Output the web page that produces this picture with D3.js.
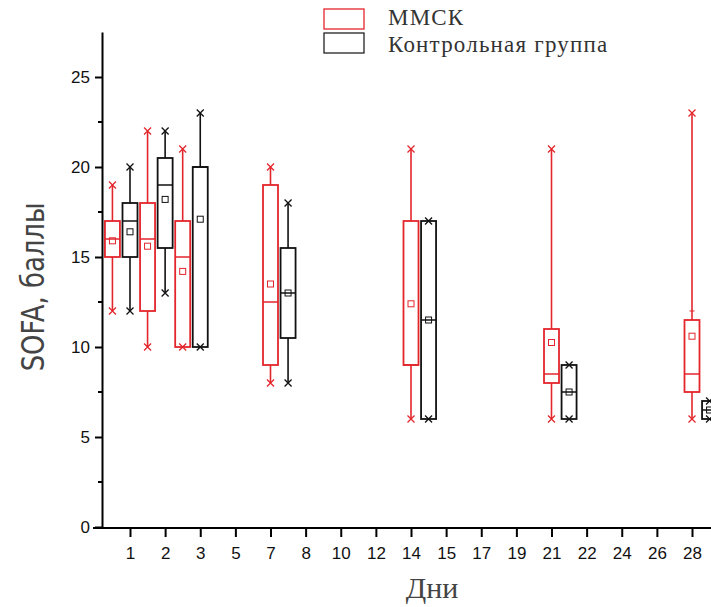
<!DOCTYPE html>
<html><head><meta charset="utf-8">
<script src="https://cdn.jsdelivr.net/npm/d3@7"></script>
<style>body{margin:0;background:#fff}svg{display:block}</style>
</head><body>
<svg id="chart" width="711" height="607"></svg>
<script>
// ---- data ----
const tickLabels = ["1","2","3","5","7","8","10","12","14","15","17","19","21","22","24","26","28"];
const days = ["1","2","3","7","14","21","28"];
const seriesNames = ["ММСК","Контрольная группа"];

const mmskMin    = [12, 10, 10, 8,   6,  6,    6];
const mmskQ1     = [15, 12, 10, 9,   9,  8,    7.5];
const mmskMedian = [16, 16, 15, 12.5,9,  8.5,  8.5];
const mmskQ3     = [17, 18, 17, 19,  17, 11,   11.5];
const mmskMax    = [19, 22, 21, 20,  21, 21,   23];
const mmskMean   = [15.9,15.6,14.2,13.5,12.4,10.25,10.6];
const mmskFence  = [null,null,null,null,null,null,12];

const ctrlMin    = [12, 13, 10, 8,   6,  6,   6];
const ctrlQ1     = [15, 15.5,10,10.5,6,  6,   6];
const ctrlMedian = [17, 19, 20, 13,  11.5,7.5,6.5];
const ctrlQ3     = [18, 20.5,20,15.5,17, 9,   7];
const ctrlMax    = [20, 22, 23, 18,  17, 9,   7];
const ctrlMean   = [16.4,18.2,17.1,13,11.5,7.5,6.5];

const yTicks = [0,5,10,15,20,25];

// ---- layout ----
const RED = "#e3262c", BLACK = "#111";
const pairShift = [-0.5,-0.5,-0.5,0,0,0,0]; // position of the ММСК box relative to its day tick
const svg = d3.select("#chart");
const x = d3.scaleLinear().domain([0,16]).range([130,692]);
const y = d3.scaleLinear().domain([0,27.5]).range([527,32]);
const axisX = 102;
const boxW = 15;

// y axis
const gy = svg.append("g").attr("transform",`translate(${axisX},0)`);
gy.call(d3.axisLeft(y).tickValues(yTicks).tickSize(7).tickSizeOuter(0).tickFormat(d3.format("d")))
  .call(g=>g.select(".domain").attr("stroke","#000").attr("stroke-width",2))
  .call(g=>g.selectAll(".tick line").attr("stroke","#000").attr("stroke-width",2))
  .call(g=>g.selectAll(".tick text").attr("font-family","Liberation Sans, Arial, sans-serif").attr("font-size",17).attr("fill","#111").attr("dx",-2));
gy.selectAll(".minor").data(yTicks.slice(0,-1).map(d=>d+2.5)).join("line")
  .attr("x1",-4).attr("x2",0).attr("y1",d=>y(d)).attr("y2",d=>y(d)).attr("stroke","#000").attr("stroke-width",2);

// x axis
const gx = svg.append("g").attr("transform",`translate(0,528)`);
gx.append("line").attr("x1",93).attr("x2",711).attr("stroke","#000").attr("stroke-width",2);
gx.call(d3.axisBottom(x).tickValues(d3.range(tickLabels.length)).tickSize(9).tickSizeOuter(0).tickFormat(i=>tickLabels[i]))
  .call(g=>g.select(".domain").remove())
  .call(g=>g.selectAll(".tick line").attr("stroke","#000").attr("stroke-width",2))
  .call(g=>g.selectAll(".tick text").attr("font-family","Liberation Sans, Arial, sans-serif").attr("font-size",17).attr("fill","#111").attr("dy","1.1em"));

// axis titles
svg.append("text").attr("transform","translate(44,287) rotate(-90) scale(0.9,1)").attr("text-anchor","middle")
  .attr("font-family","Liberation Sans Narrow, DejaVu Sans Condensed, sans-serif").attr("font-size",32).attr("fill","#444")
  .text("SOFA, баллы");
svg.append("text").attr("x",432).attr("y",598).attr("text-anchor","middle")
  .attr("font-family","Liberation Serif, Times New Roman, serif").attr("font-size",30).attr("fill","#444").text("Дни");

// boxes
function cross(g, cx, cy, color){
  const s=3.5;
  g.append("path").attr("d",`M${cx-s},${cy-s}L${cx+s},${cy+s}M${cx-s},${cy+s}L${cx+s},${cy-s}`)
   .attr("stroke",color).attr("stroke-width",1.3).attr("fill","none");
}
function drawSeries(stats, shift, color, swMain){
  const g = svg.append("g");
  days.forEach((d,i)=>{
    const cx = x(tickLabels.indexOf(d) + pairShift[i] + shift);
    const s = stats;
    g.append("line").attr("x1",cx).attr("x2",cx).attr("y1",y(s.max[i])).attr("y2",y(s.q3[i])).attr("stroke",color).attr("stroke-width",1.6);
    g.append("line").attr("x1",cx).attr("x2",cx).attr("y1",y(s.q1[i])).attr("y2",y(s.min[i])).attr("stroke",color).attr("stroke-width",1.6);
    g.append("rect").attr("x",cx-boxW/2).attr("y",y(s.q3[i])).attr("width",boxW)
      .attr("height",Math.max(0,y(s.q1[i])-y(s.q3[i]))).attr("fill","none").attr("stroke",color).attr("stroke-width",swMain);
    g.append("line").attr("x1",cx-boxW/2).attr("x2",cx+boxW/2).attr("y1",y(s.median[i])).attr("y2",y(s.median[i])).attr("stroke",color).attr("stroke-width",1.5);
    if (s.fence && s.fence[i]!=null)
      g.append("line").attr("x1",cx-2.5).attr("x2",cx+2.5).attr("y1",y(s.fence[i])).attr("y2",y(s.fence[i])).attr("stroke",color).attr("stroke-width",1);
    g.append("rect").attr("x",cx-3).attr("y",y(s.mean[i])-3).attr("width",6).attr("height",6)
      .attr("fill","none").attr("stroke",color).attr("stroke-width",1);
    cross(g,cx,y(s.max[i]),color);
    cross(g,cx,y(s.min[i]),color);
  });
}
drawSeries({min:mmskMin,q1:mmskQ1,median:mmskMedian,q3:mmskQ3,max:mmskMax,mean:mmskMean,fence:mmskFence},0,RED,1.8);
drawSeries({min:ctrlMin,q1:ctrlQ1,median:ctrlMedian,q3:ctrlQ3,max:ctrlMax,mean:ctrlMean},0.5,BLACK,1.8);

// legend
const lg = svg.append("g");
[RED, "#222"].forEach((c,i)=>{
  lg.append("rect").attr("x",324).attr("y",i?33:9).attr("width",40).attr("height",20).attr("fill","none").attr("stroke",c).attr("stroke-width",1.3);
  lg.append("text").attr("x",388).attr("y",i?52:25).attr("font-family","Liberation Serif, Times New Roman, serif")
    .attr("font-size",23).attr("letter-spacing",1.2).attr("fill","#333").text(seriesNames[i]);
});
</script>
</body></html>
